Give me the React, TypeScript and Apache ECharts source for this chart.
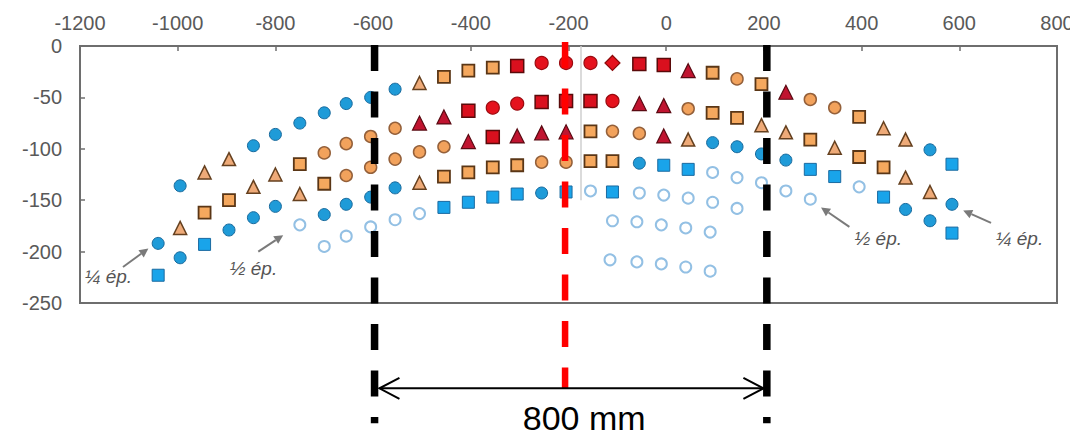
import { useEffect, useRef } from "react";
import * as echarts from "echarts";

// ---- data (mm along the width, deflection in mm) ----
const blueCircles = [
  [-995, -136], [-845, -97], [-800, -86], [-750, -75], [-700, -65], [-655, -56], [-605, -50], [-555, -42], [540, -101],
  [-1040, -192], [585, -154],
  [-995, -206], [-895, -179], [-845, -167], [-800, -156], [95, -94], [145, -98], [195, -105], [245, -111], [490, -159], [540, -170],
  [-700, -164], [-655, -154], [-605, -147], [-555, -138], [-55, -114],
  [-255, -143],
];
const blueSquares = [
  [585, -115], [-1040, -223], [-945, -193], [295, -120], [345, -127], [445, -147], [585, -182],
  [-5, -116], [45, -120], [-455, -157], [-405, -152], [-355, -147], [-305, -144], [-205, -142], [-110, -142],
];
const openCircles = [
  [395, -137], [-750, -174], [95, -123], [145, -128], [195, -133], [245, -141], [295, -149],
  [-700, -195], [-655, -185], [-605, -176], [-555, -169], [-505, -163], [-155, -141], [-55, -143], [-5, -145], [45, -148], [95, -152], [145, -158],
  [-110, -170], [-60, -171], [-10, -174], [40, -177], [90, -181],
  [-115, -208], [-60, -210], [-10, -212], [40, -215], [90, -219],
];
const orangeCircles = [
  [145, -32], [295, -52], [345, -60], [-700, -104], [-655, -95], [-605, -88], [-555, -80], [45, -61],
  [-655, -126], [-605, -118], [-555, -110], [-505, -103], [-455, -98], [-110, -83], [-55, -85], [-255, -113], [-205, -113],
];
const orangeSquares = [
  [-455, -30], [-405, -24], [-355, -21], [95, -26], [195, -37], [395, -69],
  [-945, -162], [-895, -150], [-750, -115], [95, -65], [145, -70], [295, -91], [395, -108], [445, -118],
  [-700, -134], [-155, -83], [-455, -127], [-405, -123], [-355, -118], [-305, -116], [-155, -112], [-110, -112],
];
const tanTriangles = [
  [-945, -123], [-895, -110], [-505, -36], [445, -80], [490, -91],
  [-995, -177], [-845, -137], [-800, -125], [195, -77], [245, -84], [345, -99], [490, -128], [540, -142],
  [-750, -144], [45, -91], [-505, -133],
];
const redCircles = [[-255, -16.5], [-205, -16.5], [-155, -16.5], [-355, -60], [-305, -56], [-110, -53.5]];
const redSquares = [[-305, -19.5], [-55, -17.5], [-5, -18.5], [-405, -63], [-255, -54.5], [-205, -53.5], [-155, -53.5], [-355, -88.5]];
const redTriangles = [[45, -24], [245, -45], [-505, -75], [-455, -69], [-55, -56], [-5, -58], [-405, -93], [-305, -87.5], [-255, -84.5], [-205, -83.5], [-5, -87.5]];
const redDiamonds = [[-110, -16.5]];

const xTickRange = { min: -1200, max: 800, interval: 200 };
const yTickRange = { min: -250, max: 0, interval: 50 };

// annotation anchors (data units)
const slabEdges = [-597, 206];
const slabCentre = -207;
const spanLabel = "800 mm";
const notes = [
  { text: "¼ ép.", at: [-1142, -224], from: [-1112, -215], to: [-1060, -197] },
  { text: "½ ép.", at: [-845, -216], from: [-835, -200], to: [-784, -184] },
  { text: "½ ép.", at: [434, -187], from: [375, -176], to: [317, -157] },
  { text: "¼ ép.", at: [723, -187], from: [665, -172], to: [608, -160] },
];

const styles = [
  { data: openCircles, symbol: "circle", size: 11, fill: "#ffffff", stroke: "#93c0e4", lw: 2 },
  { data: blueCircles, symbol: "circle", size: 12, fill: "#1f9bd8", stroke: "#17699c", lw: 1 },
  { data: blueSquares, symbol: "rect", size: 12, fill: "#19a4ea", stroke: "#1a6aa0", lw: 1 },
  { data: orangeCircles, symbol: "circle", size: 12, fill: "#f2a25c", stroke: "#94603a", lw: 1.5 },
  { data: orangeSquares, symbol: "rect", size: 12, fill: "#f5a85e", stroke: "#5a3616", lw: 1.8 },
  { data: tanTriangles, symbol: "triangle", size: 13, fill: "#eeaa78", stroke: "#65401f", lw: 1.5 },
  { data: redCircles, symbol: "circle", size: 13, fill: "#e5121d", stroke: "#9a0a0f", lw: 1.2 },
  { data: redSquares, symbol: "rect", size: 13, fill: "#d9101e", stroke: "#5a0a0a", lw: 1.5 },
  { data: redTriangles, symbol: "triangle", size: 14, fill: "#c01430", stroke: "#5a0a12", lw: 1.2 },
  { data: redDiamonds, symbol: "diamond", size: 15, fill: "#e5121d", stroke: "#8a0a0a", lw: 1.2 },
];

const FONT = '"Liberation Sans", Arial, sans-serif';

export default function App() {
  const ref = useRef<HTMLDivElement>(null);
  useEffect(() => {
    document.body.style.margin = "0";
    document.documentElement.style.overflow = "hidden";
    const chart = echarts.init(ref.current!, null, { renderer: "svg" });
    const axisColor = "#6e6e6e";
    const series: any[] = styles.map((s, i) => ({
      type: "scatter",
      data: s.data,
      symbol: s.symbol,
      symbolSize: s.size,
      itemStyle: { color: s.fill, borderColor: s.stroke, borderWidth: s.lw, opacity: 1 },
      z: 2 + i,
    }));
    series[0].markLine = {
      silent: true,
      symbol: "none",
      label: { show: false },
      lineStyle: { color: "#cfcfcf", type: "solid", width: 1.5 },
      data: [[{ coord: [-174, 0] }, { coord: [-174, -150] }]],
    };
    const fmt = (v: number) => String(v);
    chart.setOption({
      animation: false,
      backgroundColor: "#ffffff",
      grid: {
        left: 80, right: 13, top: 46, bottom: 134,
        outerBoundsMode: "none", containLabel: false,
        show: true, borderColor: axisColor, borderWidth: 2,
      },
      xAxis: {
        type: "value",
        position: "top",
        ...xTickRange,
        axisLine: { show: true, onZero: false, lineStyle: { color: axisColor, width: 2 } },
        axisTick: { show: true, inside: true, length: 5, lineStyle: { color: axisColor, width: 1.5 } },
        axisLabel: { color: "#595959", fontSize: 20, fontFamily: FONT, margin: 13, formatter: fmt, hideOverlap: false },
        splitLine: { show: false },
      },
      yAxis: {
        type: "value",
        ...yTickRange,
        axisLine: { show: true, onZero: false, lineStyle: { color: axisColor, width: 2 } },
        axisTick: { show: true, inside: true, length: 5, lineStyle: { color: axisColor, width: 1.5 } },
        axisLabel: { color: "#595959", fontSize: 20, fontFamily: FONT, margin: 18, formatter: fmt },
        splitLine: { show: false },
      },
      series,
    });

    const px = (x: number, y: number) => chart.convertToPixel({ gridIndex: 0 }, [x, y]) as number[];
    const graphics: any[] = [];
    // vertical guides
    slabEdges.forEach((x) => {
      const a = px(x, 1);
      const b = px(x, -367);
      graphics.push({
        type: "line",
        shape: { x1: a[0], y1: a[1], x2: b[0], y2: b[1] },
        style: { stroke: "#000000", lineWidth: 7.5, lineDash: [26, 20.5] },
        z: 50,
      });
    });
    {
      const a = px(slabCentre, 4);
      const b = px(slabCentre, -333);
      graphics.push({
        type: "line",
        shape: { x1: a[0], y1: a[1], x2: b[0], y2: b[1] },
        style: { stroke: "#ff0000", lineWidth: 6.5, lineDash: [26, 20.5] },
        z: 50,
      });
    }
    // dimension arrow
    {
      const l = px(-587, -333);
      const r = px(199, -333);
      const y = l[1];
      graphics.push({ type: "line", shape: { x1: l[0], y1: y, x2: r[0], y2: y }, style: { stroke: "#000", lineWidth: 2 }, z: 51 });
      graphics.push({ type: "polyline", shape: { points: [[l[0] + 20, y - 10.5], [l[0], y], [l[0] + 20, y + 10.5]] }, style: { stroke: "#000", lineWidth: 2, fill: "none" }, z: 51 });
      graphics.push({ type: "polyline", shape: { points: [[r[0] - 20, y - 10.5], [r[0], y], [r[0] - 20, y + 10.5]] }, style: { stroke: "#000", lineWidth: 2, fill: "none" }, z: 51 });
      const t = px(-168, -362);
      graphics.push({
        type: "text",
        x: t[0],
        y: t[1],
        style: { text: spanLabel, fill: "#000", font: `34px ${FONT}`, align: "center", verticalAlign: "middle", textAlign: "center", textVerticalAlign: "middle" },
        z: 52,
      });
    }
    // thickness notes
    notes.forEach((n) => {
      const t = px(n.at[0], n.at[1]);
      const f = px(n.from[0], n.from[1]);
      const e = px(n.to[0], n.to[1]);
      const dx = e[0] - f[0];
      const dy = e[1] - f[1];
      const len = Math.hypot(dx, dy);
      const ux = dx / len, uy = dy / len;
      const hl = 9, hw = 4.5;
      const bx = e[0] - ux * hl, by = e[1] - uy * hl;
      graphics.push({ type: "line", shape: { x1: f[0], y1: f[1], x2: bx, y2: by }, style: { stroke: "#7a7a7a", lineWidth: 2 }, z: 40 });
      graphics.push({
        type: "polygon",
        shape: { points: [[e[0], e[1]], [bx - uy * hw, by + ux * hw], [bx + uy * hw, by - ux * hw]] },
        style: { fill: "#7a7a7a" },
        z: 40,
      });
      graphics.push({
        type: "text",
        x: t[0],
        y: t[1],
        style: { text: n.text, fill: "#555555", font: `italic 19px ${FONT}`, align: "center", verticalAlign: "middle", textAlign: "center", textVerticalAlign: "middle" },
        z: 40,
      });
    });
    chart.setOption({ graphic: graphics });
    return () => chart.dispose();
  }, []);
  return <div ref={ref} style={{ position: "absolute", left: 0, top: 0, width: 1070, height: 437 }} />;
}
